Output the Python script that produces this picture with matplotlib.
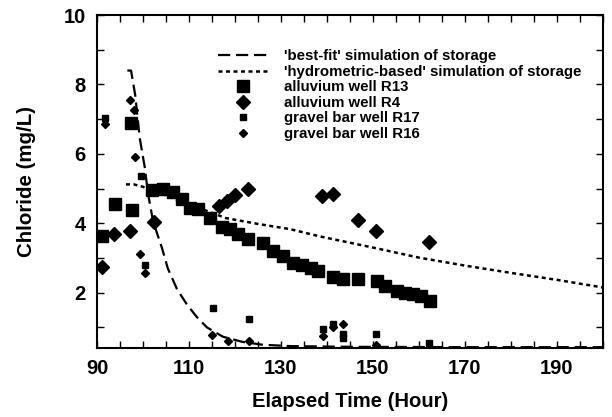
import matplotlib
matplotlib.use("Agg")
import matplotlib.pyplot as plt
from matplotlib.ticker import FixedLocator, MultipleLocator

plt.rcParams['font.family'] = ['Liberation Sans', 'DejaVu Sans']
plt.rcParams['font.weight'] = 'bold'

# 'best-fit' simulation of storage
fit_t = [96.6, 97.4, 98.3, 99.3, 100.4, 101.1, 102.2, 104.1, 105.4, 107.4, 109.6,
         111.7, 113.9, 117.4, 121.7, 126, 132, 145, 170, 200]
fit_c = [8.4, 8.4, 7.7, 6.45, 5.6, 4.85, 4.05, 3.3, 2.7, 2.1, 1.65,
         1.3, 1.0, 0.73, 0.58, 0.5, 0.46, 0.44, 0.43, 0.43]

# 'hydrometric-based' simulation of storage
hyd_t = [96.3, 98, 100, 103, 107, 110, 115, 118, 125, 132, 138.5, 150, 160, 170, 180, 190, 200]
hyd_c = [5.12, 5.12, 5.05, 4.9, 4.7, 4.55, 4.3, 4.15, 3.98, 3.83, 3.62, 3.3, 3.01, 2.78, 2.57, 2.37, 2.15]

# alluvium well R13
r13_t = [91.0, 93.9, 97.4, 97.6, 102.0, 104.3, 106.5, 108.5, 110.2, 112.0, 114.6, 117.2,
         118.9, 120.7, 122.8, 126.1, 128.3, 130.4, 132.6, 134.6, 136.5, 138.0, 141.3,
         143.5, 146.7, 150.9, 152.6, 155.2, 157.0, 158.8, 160.5, 162.5]
r13_c = [3.62, 4.55, 6.9, 4.38, 4.95, 5.0, 4.9, 4.7, 4.45, 4.4, 4.15, 3.9,
         3.83, 3.68, 3.55, 3.42, 3.2, 3.05, 2.85, 2.8, 2.7, 2.63, 2.45,
         2.4, 2.4, 2.35, 2.2, 2.05, 2.0, 1.95, 1.9, 1.75]

# alluvium well R4
r4_t = [91.1, 93.7, 97.2, 102.4, 116.5, 118.3, 120.0, 122.8, 138.9, 141.3, 146.7, 150.7, 162.3]
r4_c = [2.75, 3.68, 3.77, 4.03, 4.5, 4.65, 4.8, 5.0, 4.78, 4.84, 4.09, 3.77, 3.45]

# gravel bar well R17
r17_t = [91.7, 97.8, 99.6, 100.4, 115.2, 123.0, 139.1, 141.3, 143.5, 143.5, 150.7, 162.2]
r17_c = [7.04, 6.95, 5.35, 2.8, 1.55, 1.25, 0.95, 1.1, 0.8, 0.7, 0.8, 0.55]

# gravel bar well R16
r16_t = [91.7, 97.2, 98.0, 98.3, 99.3, 100.4, 115.0, 118.5, 123.0, 139.1, 141.3, 143.5, 150.7]
r16_c = [6.87, 7.55, 7.25, 5.9, 3.1, 2.58, 0.78, 0.6, 0.6, 0.75, 1.0, 1.1, 0.5]

fig = plt.figure(figsize=(6.12, 4.17), dpi=100)
ax = fig.add_axes([0.1585, 0.165, 0.8265, 0.799])

ax.plot(fit_t, fit_c, color='black', lw=1.6, ls=(0, (5.5, 2.6)),
        label="'best-fit' simulation of storage")
ax.plot(hyd_t, hyd_c, color='black', lw=1.8, ls=(0, (1.6, 1.4)),
        label="'hydrometric-based' simulation of storage")
ax.plot(r13_t, r13_c, 's', color='black', ms=8.5, lw=0, label='alluvium well R13')
ax.plot(r4_t, r4_c, 'D', color='black', ms=7.2, lw=0, label='alluvium well R4')
ax.plot(r17_t, r17_c, 's', color='black', ms=4.3, lw=0, label='gravel bar well R17')
ax.plot(r16_t, r16_c, 'D', color='black', ms=3.6, lw=0, label='gravel bar well R16')

ax.set_xlim(90, 200)
ax.set_ylim(0.4, 10)
ax.xaxis.set_major_locator(FixedLocator([90, 110, 130, 150, 170, 190]))
ax.xaxis.set_minor_locator(MultipleLocator(5))
ax.yaxis.set_major_locator(FixedLocator([2, 4, 6, 8, 10]))
ax.yaxis.set_minor_locator(MultipleLocator(1))
ax.tick_params(which='both', direction='in', top=True, right=True,
               length=5, width=1, labelsize=14.5, pad=8)
for lab in ax.get_xticklabels() + ax.get_yticklabels():
    lab.set_fontweight('bold')
for s in ax.spines.values():
    s.set_linewidth(1.5)

ax.set_xlabel('Elapsed Time (Hour)', fontsize=14.6, fontweight='bold', labelpad=10)
ax.set_ylabel('Chloride (mg/L)', fontsize=14.8, fontweight='bold', labelpad=20)

ax.legend(loc='upper left', bbox_to_anchor=(0.239, 0.897), frameon=False,
          prop={'size': 10.8, 'weight': 'bold'}, handlelength=3.3, handletextpad=1.1,
          labelspacing=0.1, borderpad=0, borderaxespad=0, numpoints=1)

fig.savefig('out.png', dpi=100)
